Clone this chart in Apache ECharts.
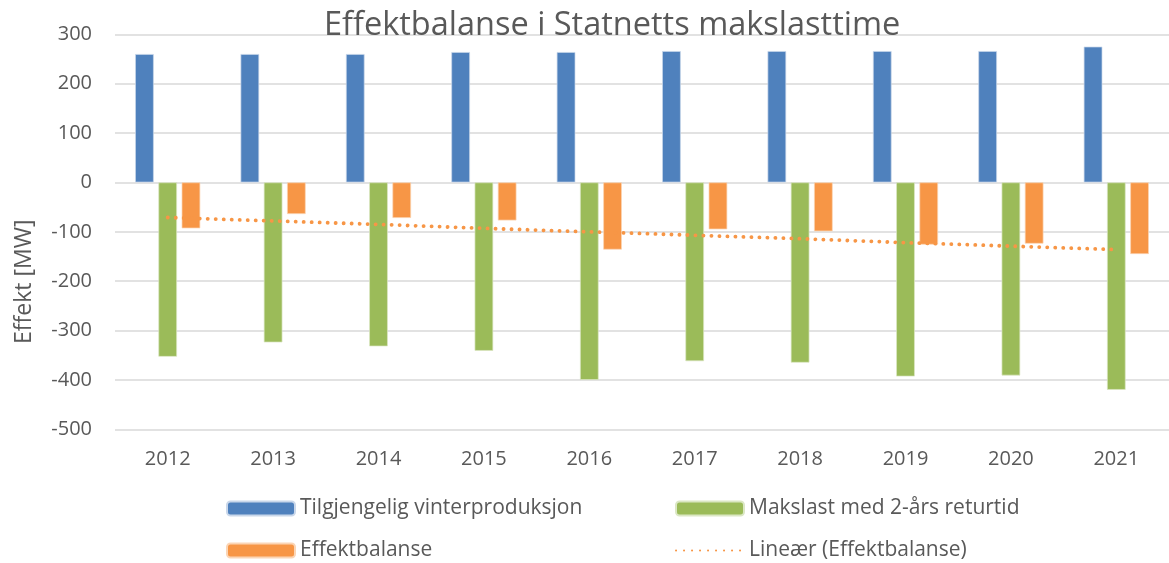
<!DOCTYPE html>
<html>
<head>
<meta charset="utf-8">
<script src="https://cdn.jsdelivr.net/npm/echarts@6/dist/echarts.min.js"></script>
<style>html,body{margin:0;padding:0;background:#fff}#c{width:1169px;height:563px}</style>
</head>
<body>
<div id="c"></div>
<script>
const categories = ['2012','2013','2014','2015','2016','2017','2018','2019','2020','2021'];
const produksjon = [260, 260, 260, 264, 264, 266, 266, 266, 266, 275];
const makslast = [-353, -324, -332, -341, -400, -362, -365, -393, -391, -420];
const balanse = [-93, -64, -72, -77, -136, -95, -99, -126, -124, -145];
const trend = [-71, -78, -85, -93, -100, -107, -114, -122, -129, -136];
const yTicks = { min: -500, max: 300, interval: 100 };

const txt = '#595959';
const font = 'Open Sans';
const legendBase = {
  padding: 0, itemWidth: 68, itemHeight: 14, selectedMode: false,
  textStyle: { color: txt, fontFamily: font, fontSize: 21 }
};
const chart = echarts.init(document.getElementById('c'));
chart.setOption({
  animation: false,
  backgroundColor: '#fff',
  title: {
    text: 'Effektbalanse i Statnetts makslasttime',
    left: 319, top: 4,
    textStyle: { color: txt, fontFamily: font, fontWeight: 'normal', fontSize: 32.5 }
  },
  grid: { left: 115, right: 0, top: 34.3, bottom: 133.7 },
  legend: [
    Object.assign({ left: 226, top: 498, data: ['Tilgjengelig vinterproduksjon'] }, legendBase),
    Object.assign({ left: 226, top: 540, data: ['Effektbalanse'] }, legendBase),
    Object.assign({ left: 675, top: 498, data: ['Makslast med 2-års returtid'] }, legendBase),
    Object.assign({ left: 675, top: 540, data: ['Lineær (Effektbalanse)'], itemStyle: { opacity: 0 } }, legendBase)
  ],
  xAxis: {
    type: 'category', data: categories,
    axisLine: { show: false }, axisTick: { show: false },
    axisLabel: { color: txt, fontFamily: font, fontSize: 20, margin: 20 }
  },
  yAxis: {
    type: 'value', min: yTicks.min, max: yTicks.max, interval: yTicks.interval,
    name: 'Effekt [MW]', nameLocation: 'middle', nameGap: 79, nameRotate: 90,
    nameTextStyle: { color: txt, fontFamily: font, fontSize: 23, padding: [0, 100, 0, 0] },
    axisLine: { show: false }, axisTick: { show: false },
    axisLabel: { color: txt, fontFamily: font, fontSize: 20, margin: 23 },
    splitLine: { lineStyle: { color: '#d9d9d9', width: 1.5 } }
  },
  series: [
    {
      name: 'Tilgjengelig vinterproduksjon', type: 'bar', data: produksjon,
      barWidth: 18.6, barGap: '25%',
      itemStyle: { color: '#4F81BD', borderColor: '#c9d7ea', borderWidth: 0.7 }
    },
    {
      name: 'Makslast med 2-års returtid', type: 'bar', data: makslast,
      barWidth: 18.6, barGap: '25%',
      itemStyle: { color: '#9BBB59', borderColor: '#dbe7c4', borderWidth: 0.7 }
    },
    {
      name: 'Effektbalanse', type: 'bar', data: balanse,
      barWidth: 18.6, barGap: '25%',
      itemStyle: { color: '#F79646', borderColor: '#fbd5b5', borderWidth: 0.7 }
    },
    {
      name: 'Lineær (Effektbalanse)', type: 'line', data: trend,
      symbol: 'none', z: 5,
      itemStyle: { color: '#F79646' },
      lineStyle: { color: '#F79646', width: 3.8, type: [0.1, 7.9], cap: 'round' }
    }
  ]
});
</script>
</body>
</html>
